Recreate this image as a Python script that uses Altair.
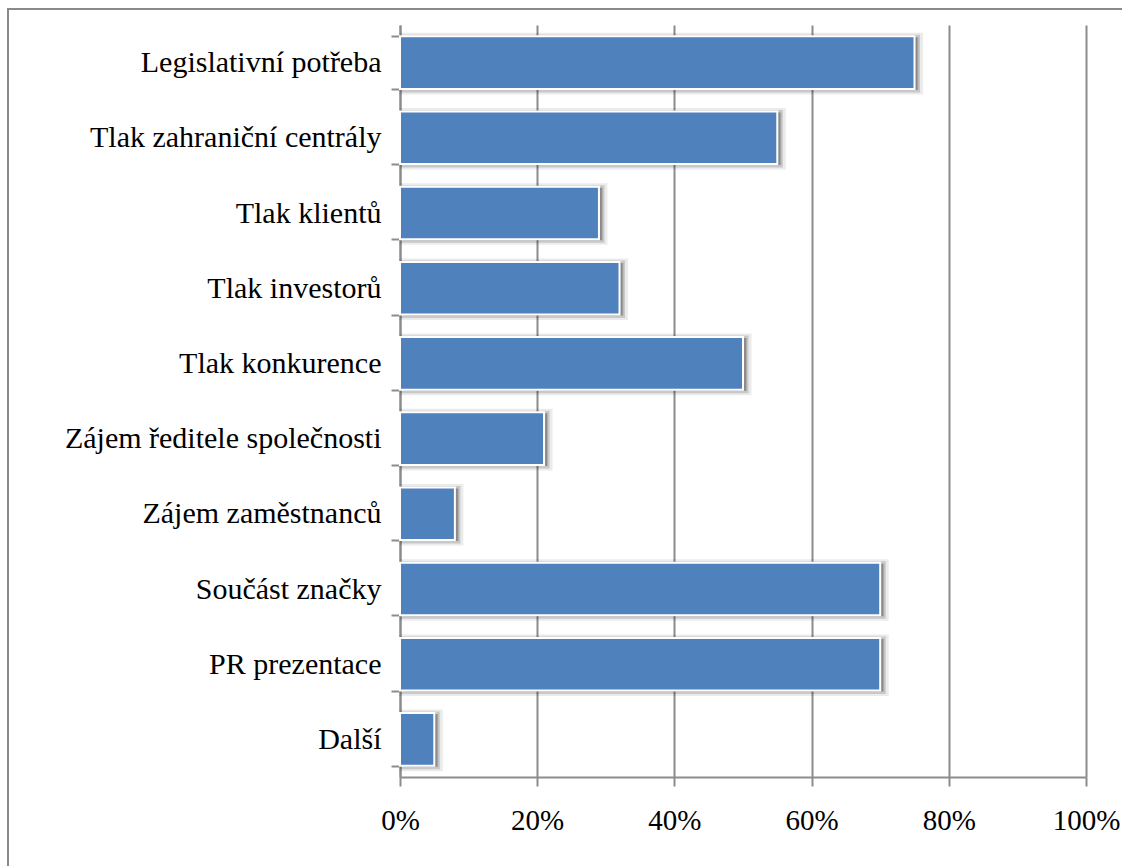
import altair as alt
import pandas as pd

categories = [
    "Legislativní potřeba",
    "Tlak zahraniční centrály",
    "Tlak klientů",
    "Tlak investorů",
    "Tlak konkurence",
    "Zájem ředitele společnosti",
    "Zájem zaměstnanců",
    "Součást značky",
    "PR prezentace",
    "Další",
]
values = [0.75, 0.55, 0.29, 0.32, 0.50, 0.21, 0.08, 0.70, 0.70, 0.05]
tick_values = [0, 0.2, 0.4, 0.6, 0.8, 1.0]

df = pd.DataFrame({"cat": categories, "val": values})

GRAY = "#8c8c8c"
FONT = "Liberation Serif"

x_enc = alt.X(
    "val:Q",
    scale=alt.Scale(domain=[0, 1], nice=False),
    axis=alt.Axis(
        values=tick_values,
        format=".0%",
        title=None,
        grid=True,
        gridColor=GRAY,
        gridWidth=2,
        domainColor=GRAY,
        domainWidth=2,
        tickColor=GRAY,
        tickWidth=2,
        tickSize=9,
        labelFont=FONT,
        labelFontSize=29,
        labelColor="#000000",
        labelPadding=20,
        labelFlush=False,
    ),
)
y_enc = alt.Y(
    "cat:N",
    sort=categories,
    scale=alt.Scale(paddingInner=0.3, paddingOuter=0.15),
    axis=alt.Axis(
        title=None,
        tickBand="extent",
        domainColor=GRAY,
        domainWidth=2,
        tickColor=GRAY,
        tickWidth=2,
        tickSize=9,
        labelFont=FONT,
        labelFontSize=30,
        labelColor="#000000",
        labelPadding=10,
        labelLimit=400,
    ),
)

base = alt.Chart(df)

shadow1 = base.mark_bar(
    color="#000000", fillOpacity=0.12, stroke="#000000", strokeWidth=9,
    strokeOpacity=0.08, xOffset=4, yOffset=1
).encode(x=x_enc, y=y_enc)
shadow2 = base.mark_bar(
    color="#000000", fillOpacity=0.2, stroke="#000000", strokeWidth=5,
    strokeOpacity=0.15, xOffset=3, yOffset=1
).encode(x=x_enc, y=y_enc)
bars = base.mark_bar(color="#4F81BD", stroke="#ffffff", strokeWidth=2).encode(x=x_enc, y=y_enc)

frame = alt.Chart(pd.DataFrame({"a": [0]})).mark_rect(
    fill=None, stroke="#8a8a8a", strokeWidth=2
).encode(
    x=alt.value(-392), x2=alt.value(900), y=alt.value(-16), y2=alt.value(1000)
)

chart = alt.layer(frame, shadow1, shadow2, bars).properties(
    width=686,
    height=752,
    autosize=alt.AutoSizeParams(type="none"),
    padding={"left": 400, "top": 25, "right": 36, "bottom": 89},
    background="#ffffff",
).configure_view(stroke=None)

chart.save("out.html", embed_options={"renderer": "svg", "actions": False})
